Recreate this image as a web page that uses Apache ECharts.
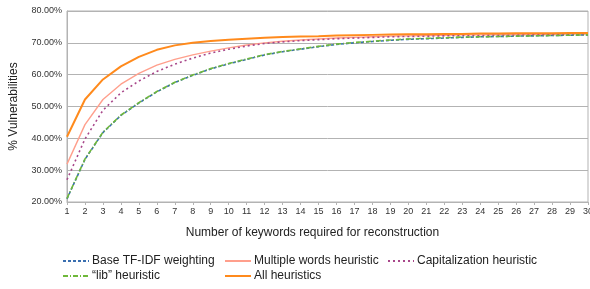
<!DOCTYPE html>
<html>
<head>
<meta charset="utf-8">
<script src="https://cdn.jsdelivr.net/npm/echarts@6/dist/echarts.min.js"></script>
<style>html,body{margin:0;padding:0;background:#fff}#c{width:590px;height:289px}</style>
</head>
<body>
<div id="c"></div>
<script>
var categories = ['1','2','3','4','5','6','7','8','9','10','11','12','13','14','15','16','17','18','19','20','21','22','23','24','25','26','27','28','29','30'];
var baseTfidf = [21.0,33.4,41.8,47.2,51.1,54.6,57.5,59.8,61.8,63.4,64.8,66.2,67.2,68.0,68.8,69.5,70.0,70.4,70.8,71.1,71.3,71.5,71.7,71.9,72.0,72.1,72.2,72.3,72.4,72.5];
var multipleWords = [31.9,44.3,52.2,57.0,60.4,63.0,64.8,66.2,67.4,68.4,69.3,70.0,70.5,70.9,71.2,71.5,71.7,71.9,72.1,72.2,72.3,72.4,72.5,72.5,72.6,72.6,72.7,72.7,72.8,72.8];
var capitalization = [27.0,39.8,48.8,54.3,58.0,61.0,63.3,65.2,66.8,68.0,69.0,69.8,70.3,70.7,71.0,71.3,71.5,71.7,71.9,72.0,72.1,72.2,72.3,72.3,72.4,72.4,72.5,72.5,72.6,72.6];
var libHeuristic = [21.1,33.5,41.9,47.3,51.2,54.7,57.6,59.9,61.9,63.5,64.9,66.3,67.3,68.1,68.9,69.6,70.1,70.5,70.9,71.2,71.4,71.6,71.8,71.9,72.0,72.1,72.2,72.3,72.4,72.5];
var allHeuristics = [40.5,52.2,58.5,62.6,65.6,67.8,69.2,70.0,70.6,71.0,71.3,71.6,71.8,72.0,72.1,72.3,72.4,72.5,72.6,72.7,72.7,72.8,72.8,72.9,72.9,73.0,73.0,73.0,73.1,73.1];
var seriesNames = ['Base TF-IDF weighting','Multiple words heuristic','Capitalization heuristic','\u201clib\u201d heuristic','All heuristics'];
var yTicks = {min:20, max:80, interval:10};

var font = 'Liberation Sans, Arial, sans-serif';
var chart = echarts.init(document.getElementById('c'), null, {renderer:'canvas'});

function legendFor(name, left, top) {
  return {
    data:[name], left:left, top:top, itemWidth:26, itemHeight:10, itemGap:0, padding:0,
    itemStyle:{opacity:0},
    textStyle:{fontFamily:font, fontSize:12, color:'#222', padding:[0,0,0,-2]}
  };
}

var option = {
  animation:false,
  backgroundColor:'#fff',
  grid:{left:67, right:2, top:11, height:191, show:true, borderColor:'#b3b3b3', borderWidth:1, containLabel:false, outerBoundsMode:'none'},
  legend:[
    legendFor(seriesNames[0], 62, 255),
    legendFor(seriesNames[1], 224, 255),
    legendFor(seriesNames[2], 387, 255),
    legendFor(seriesNames[3], 62, 270),
    legendFor(seriesNames[4], 224, 270)
  ],
  xAxis:{
    type:'category', data:categories, boundaryGap:false,
    name:'Number of keywords required for reconstruction', nameLocation:'middle', nameGap:25,
    nameTextStyle:{fontFamily:font, fontSize:12, color:'#222', padding:[0,30,0,0]},
    axisLine:{lineStyle:{color:'#b3b3b3'}},
    axisTick:{show:true, length:3, lineStyle:{color:'#b3b3b3'}, interval:0},
    axisLabel:{fontFamily:font, fontSize:9, color:'#333', interval:0, margin:5, hideOverlap:false},
    splitLine:{show:false}
  },
  yAxis:{
    type:'value', min:yTicks.min, max:yTicks.max, interval:yTicks.interval,
    name:'% Vulnerabilities', nameLocation:'middle', nameGap:47, nameRotate:90,
    nameTextStyle:{fontFamily:font, fontSize:12, color:'#222'},
    axisLine:{show:true, lineStyle:{color:'#b3b3b3'}},
    axisTick:{show:false},
    axisLabel:{fontFamily:font, fontSize:9, color:'#333', margin:5, formatter:function(v){return v.toFixed(2)+'%';}},
    splitLine:{lineStyle:{color:'#b3b3b3', width:1}}
  },
  series:[
    {name:seriesNames[0], type:'line', data:baseTfidf, symbol:'none', lineStyle:{color:'#3a6fb0', width:1.6, type:[3,2]}, itemStyle:{color:'#3a6fb0'}, z:3},
    {name:seriesNames[1], type:'line', data:multipleWords, symbol:'none', lineStyle:{color:'#ff9f8c', width:1.4, type:'solid'}, itemStyle:{color:'#ff9f8c'}, z:2},
    {name:seriesNames[2], type:'line', data:capitalization, symbol:'none', lineStyle:{color:'#a8478a', width:1.6, type:[2,3]}, itemStyle:{color:'#a8478a'}, z:3},
    {name:seriesNames[3], type:'line', data:libHeuristic, symbol:'none', lineStyle:{color:'#6fb83a', width:1.6, type:[5,2,1,2]}, itemStyle:{color:'#6fb83a'}, z:4},
    {name:seriesNames[4], type:'line', data:allHeuristics, symbol:'none', lineStyle:{color:'#ff8a1c', width:2}, itemStyle:{color:'#ff8a1c'}, z:5}
  ]
};
chart.setOption(option);
</script>
</body>
</html>
